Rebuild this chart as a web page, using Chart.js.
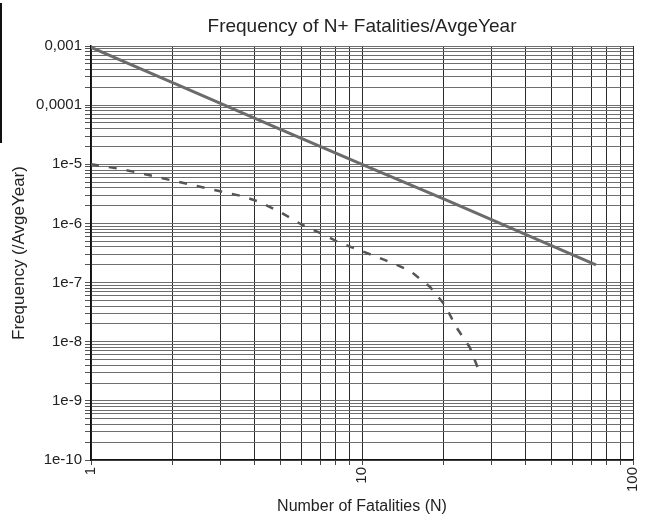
<!DOCTYPE html>
<html>
<head>
  <title>Frequency of N+ Fatalities/AvgeYear</title>
  <style>
    html, body { margin: 0; padding: 0; background: #fff; }
    #wrap { position: relative; width: 649px; height: 517px; }
    #edge { position: absolute; left: 0; top: 3px; width: 2px; height: 140px; background: #111; }
  </style>
</head>
<body>
<div id="wrap">
  <canvas id="fnChart" width="649" height="517"></canvas>
  <div id="edge"></div>
</div>

<script src="https://cdn.jsdelivr.net/npm/chart.js"></script>
<script>
  // upper F-N curve (solid)
  const upperN    = [1, 2, 5, 10, 20, 50, 73];
  const upperFreq = [9.5e-4, 2.4e-4, 3.9e-5, 1.0e-5, 2.6e-6, 4.2e-7, 2.0e-7];

  // lower F-N curve (dashed)
  const lowerN    = [1, 1.25, 1.5, 2, 3, 3.6, 4.2, 5, 6, 7.3, 8.2, 10, 12.3, 15, 17.8, 20.2, 22.3, 25, 27.5];
  const lowerFreq = [1e-5, 8.5e-6, 7.2e-6, 5.3e-6, 3.5e-6, 2.9e-6, 2.3e-6, 1.55e-6, 9.5e-7, 6.3e-7,
                     4.8e-7, 3.4e-7, 2.35e-7, 1.6e-7, 8.5e-8, 4.2e-8, 1.75e-8, 8e-9, 2.6e-9];

  // axis decades and their labels
  const xTickValues = [1, 10, 100];
  const xTickLabels = ['1', '10', '100'];
  const yTickValues = [1e-10, 1e-9, 1e-8, 1e-7, 1e-6, 1e-5, 1e-4, 1e-3];
  const yTickLabels = ['1e-10', '1e-9', '1e-8', '1e-7', '1e-6', '1e-5', '0,0001', '0,001'];

  const chartTitle = 'Frequency of N+ Fatalities/AvgeYear';
  const textColor = '#222';
  const fontFam = 'Arial, "Liberation Sans", sans-serif';

  // decade ticks plus 2..9 in between, for the gridlines
  function logTicks(decades) {
    const out = [];
    for (let i = 0; i < decades.length; i++) {
      out.push({ value: decades[i] });
      if (i < decades.length - 1) {
        for (let k = 2; k <= 9; k++) out.push({ value: k * decades[i] });
      }
    }
    return out;
  }

  function labelFor(values, labels) {
    return function (value) {
      for (let i = 0; i < values.length; i++) {
        if (Math.abs(Math.log10(value) - Math.log10(values[i])) < 1e-6) return labels[i];
      }
      return '';
    };
  }

  const toPoints = (xs, ys) => xs.map((x, i) => ({ x: x, y: ys[i] }));

  // title centred over the plot area rather than the whole canvas
  const plotTitle = {
    id: 'plotTitle',
    afterDraw(chart) {
      const { ctx, chartArea } = chart;
      ctx.save();
      ctx.fillStyle = textColor;
      ctx.font = '19px ' + fontFam;
      ctx.textAlign = 'center';
      ctx.textBaseline = 'alphabetic';
      ctx.fillText(chartTitle, (chartArea.left + chartArea.right) / 2, 32);
      ctx.restore();
    }
  };

  new Chart(document.getElementById('fnChart'), {
    type: 'line',
    data: {
      datasets: [
        {
          data: toPoints(upperN, upperFreq),
          borderColor: '#6b6b6b',
          borderWidth: 3,
          pointRadius: 0,
          tension: 0
        },
        {
          data: toPoints(lowerN, lowerFreq),
          borderColor: '#555',
          borderWidth: 2.5,
          borderDash: [8, 10],
          pointRadius: 0,
          tension: 0
        }
      ]
    },
    plugins: [plotTitle],
    options: {
      responsive: false,
      animation: false,
      layout: { padding: { top: 46, right: 16 } },
      plugins: {
        legend: { display: false },
        tooltip: { enabled: false },
        title: { display: false }
      },
      scales: {
        x: {
          type: 'logarithmic',
          min: 1,
          max: 100,
          afterBuildTicks: s => { s.ticks = logTicks(xTickValues); },
          afterFit: s => { s.height = 57; s.paddingRight = 0; s.paddingLeft = 0; },
          grid: { color: '#2a2a2a', tickLength: 5, tickColor: '#444' },
          border: { color: '#111', width: 1.5 },
          ticks: {
            autoSkip: false,
            minRotation: 90,
            maxRotation: 90,
            padding: 2,
            color: textColor,
            font: { family: fontFam, size: 15 },
            callback: labelFor(xTickValues, xTickLabels)
          },
          title: {
            display: true,
            text: 'Number of Fatalities (N)',
            color: textColor,
            font: { family: fontFam, size: 16 },
            padding: { top: 0, bottom: 1 }
          }
        },
        y: {
          type: 'logarithmic',
          min: 1e-10,
          max: 1e-3,
          afterBuildTicks: s => { s.ticks = logTicks(yTickValues); },
          afterFit: s => { s.width = 91; s.paddingTop = 0; s.paddingBottom = 0; },
          grid: { color: '#6e6e6e', tickLength: 6, tickColor: '#555' },
          border: { color: '#111', width: 1.5 },
          ticks: {
            autoSkip: false,
            padding: 3,
            color: textColor,
            font: { family: fontFam, size: 15 },
            callback: labelFor(yTickValues, yTickLabels)
          },
          title: {
            display: true,
            text: 'Frequency (/AvgeYear)',
            color: textColor,
            font: { family: fontFam, size: 17 },
            padding: { top: 9, bottom: 4 }
          }
        }
      }
    }
  });
</script>
</body>
</html>
